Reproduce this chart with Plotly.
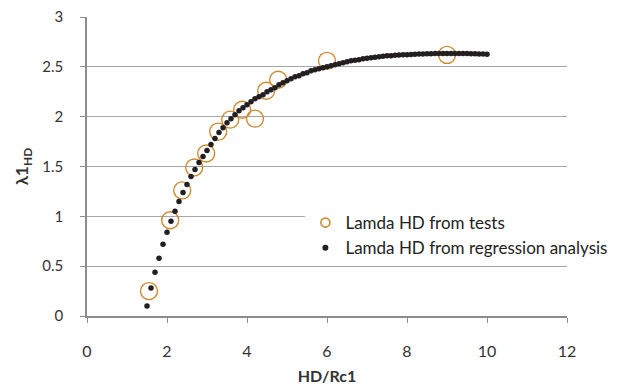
import plotly.graph_objects as go

# Test data
test_x = [1.55, 2.08, 2.38, 2.68, 2.98, 3.28, 3.58, 3.88, 4.2, 4.48, 4.78, 6.0, 9.0]
test_y = [0.25, 0.96, 1.26, 1.49, 1.63, 1.85, 1.97, 2.07, 1.98, 2.26, 2.37, 2.56, 2.62]

# Regression curve points
reg_x = [1.5, 1.6, 1.7, 1.8, 1.9, 2.0, 2.1, 2.2, 2.3, 2.4, 2.5, 2.6, 2.7, 2.8, 2.9,
         3.0, 3.1, 3.2, 3.3, 3.4, 3.5, 3.6, 3.7, 3.8, 3.9, 4.0, 4.1, 4.2, 4.3, 4.4,
         4.5, 4.6, 4.7, 4.8, 4.9, 5.0, 5.1, 5.2, 5.3, 5.4, 5.5, 5.6, 5.7, 5.8, 5.9,
         6.0, 6.1, 6.2, 6.3, 6.4, 6.5, 6.6, 6.7, 6.8, 6.9, 7.0, 7.1, 7.2, 7.3, 7.4,
         7.5, 7.6, 7.7, 7.8, 7.9, 8.0, 8.1, 8.2, 8.3, 8.4, 8.5, 8.6, 8.7, 8.8, 8.9,
         9.0, 9.1, 9.2, 9.3, 9.4, 9.5, 9.6, 9.7, 9.8, 9.9, 10.0]
reg_y = [0.10, 0.28, 0.44, 0.58, 0.72, 0.84, 0.95, 1.05, 1.15, 1.24, 1.32, 1.40, 1.47, 1.54, 1.60,
         1.66, 1.72, 1.78, 1.84, 1.89, 1.94, 1.98, 2.02, 2.06, 2.09, 2.12, 2.15, 2.18, 2.20, 2.22,
         2.25, 2.27, 2.29, 2.32, 2.34, 2.36, 2.38, 2.40, 2.41, 2.43, 2.44, 2.46, 2.47, 2.48, 2.49,
         2.50, 2.51, 2.52, 2.53, 2.54, 2.55, 2.56, 2.565, 2.57, 2.58, 2.585, 2.59, 2.595, 2.60, 2.605,
         2.61, 2.612, 2.615, 2.618, 2.62, 2.622, 2.624, 2.626, 2.628, 2.63, 2.631, 2.632, 2.633, 2.634, 2.634,
         2.635, 2.635, 2.635, 2.634, 2.634, 2.633, 2.632, 2.631, 2.63, 2.628, 2.626]

x_ticks = [0, 2, 4, 6, 8, 10, 12]
y_ticks = [0, 0.5, 1, 1.5, 2, 2.5, 3]
y_tick_labels = ["0", "0.5", "1", "1.5", "2", "2.5", "3"]

FONT = "Lato, Open Sans, sans-serif"
ORANGE = "#CC8A33"
DARK = "#231F20"

fig = go.Figure()
fig.add_trace(go.Scatter(
    x=test_x, y=test_y, mode="markers", name="Lamda HD from tests", showlegend=False,
    marker=dict(symbol="circle-open", size=17, color=ORANGE, line=dict(width=1.4, color=ORANGE)),
))
fig.add_trace(go.Scatter(
    x=reg_x, y=reg_y, mode="markers", name="Lamda HD from regression analysis", showlegend=False,
    marker=dict(symbol="circle", size=5.5, color=DARK),
))
# legend entries with small symbols
fig.add_trace(go.Scatter(
    x=[None], y=[None], mode="markers", name="Lamda HD from tests",
    marker=dict(symbol="circle-open", size=9, color=ORANGE, line=dict(width=1.6, color=ORANGE)),
))
fig.add_trace(go.Scatter(
    x=[None], y=[None], mode="markers", name="Lamda HD from regression analysis",
    marker=dict(symbol="circle", size=6, color=DARK),
))

fig.update_layout(
    width=620, height=387,
    margin=dict(l=79, r=61, t=9, b=79, autoexpand=False),
    paper_bgcolor="white", plot_bgcolor="white",
    font=dict(family=FONT, size=15, color="#333333"),
    showlegend=True,
    legend=dict(
        x=0.455, y=0.371, xanchor="left", yanchor="top",
        bgcolor="white", font=dict(size=17, color="#222222"),
        itemsizing="trace", tracegroupgap=0, itemwidth=30,
        borderwidth=0,
    ),
    xaxis=dict(
        range=[0, 12], tickvals=x_ticks, showgrid=False, zeroline=False,
        showline=True, linecolor="#8C8C8C", linewidth=1.5,
        ticks="outside", ticklen=5, tickcolor="#8C8C8C", automargin=False,
        ticklabelstandoff=15, ticklabeloverflow="allow",
        tickfont=dict(size=16),
        title=dict(text="<b>HD/Rc1</b>", font=dict(size=16, color="#333333"), standoff=12),
    ),
    yaxis=dict(
        range=[0, 3], tickvals=y_ticks, ticktext=y_tick_labels,
        showgrid=True, gridcolor="#A6A6A6", gridwidth=1.2, zeroline=False,
        showline=True, linecolor="#8C8C8C", linewidth=1.5,
        ticks="outside", ticklen=5, tickcolor="#8C8C8C", automargin=False,
        ticklabelstandoff=14, ticklabeloverflow="allow",
        title=dict(text="<b>λ1<sub>HD</sub></b>", font=dict(size=17, color="#333333"), standoff=9),
    ),
)

fig.write_html("out.html")
